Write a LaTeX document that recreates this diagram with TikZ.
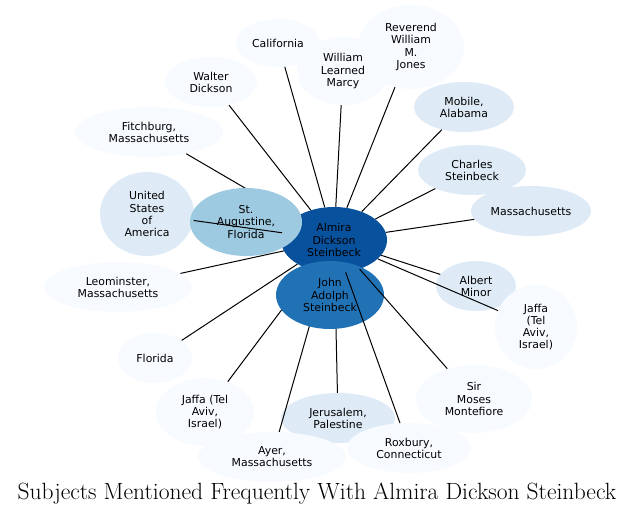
\documentclass[tikz,border=0pt]{standalone}
\usepackage{fontspec}
\newfontfamily\subjectfont{DejaVu Sans}
\usepackage{tikz}
\usetikzlibrary{shapes}
\definecolor{blueA}{HTML}{F7FBFF}
\definecolor{blueB}{HTML}{DEEBF7}
\definecolor{blueC}{HTML}{9ECAE1}
\definecolor{blueD}{HTML}{2171B5}
\definecolor{blueE}{HTML}{08519C}
\tikzset{subject/.style={ellipse, inner sep=0pt, align=center, font=\subjectfont\fontsize{10.9}{12.1}\selectfont}}
\tikzset{mention/.style={line width=1pt}}
\newcommand{\subjectnode}[6] {\node at (#1) (#2) [subject, fill=#3, minimum width=#4, minimum height=#5] {#6};}
\newcommand{\mentionedge}[2] {\draw [mention] (#1) -- (#2);}

\begin{document}
\begin{tikzpicture}[x=1pt, y=-1pt]
\useasboundingbox (0,0) rectangle (635,518);
\subjectnode {278,43} {california} {blueA} {84pt} {48pt} {California};
\subjectnode {211,82} {walter} {blueA} {92pt} {50pt} {Walter\\Dickson};
\subjectnode {149,132} {fitchburg} {blueA} {148pt} {50pt} {Fitchburg,\\Massachusetts};
\subjectnode {411,47} {jones} {blueA} {106pt} {84pt} {Reverend\\William\\M.\\Jones};
\subjectnode {343,71} {marcy} {blueA} {92pt} {68pt} {William\\Learned\\Marcy};
\subjectnode {464,107} {mobile} {blueB} {100pt} {50pt} {Mobile,\\Alabama};
\subjectnode {472,170} {charles} {blueB} {108pt} {50pt} {Charles\\Steinbeck};
\subjectnode {531,211} {mass} {blueB} {120pt} {50pt} {Massachusetts};
\subjectnode {476,286} {albert} {blueB} {80pt} {50pt} {Albert\\Minor};
\subjectnode {536,327} {jaffaR} {blueA} {82pt} {84pt} {Jaffa\\(Tel\\Aviv,\\Israel)};
\subjectnode {474,399} {moses} {blueA} {116pt} {68pt} {Sir\\Moses\\Montefiore};
\subjectnode {338,418} {jerusalem} {blueB} {114pt} {50pt} {Jerusalem,\\Palestine};
\subjectnode {409,448} {roxbury} {blueA} {124pt} {50pt} {Roxbury,\\Connecticut};
\subjectnode {205,412} {jaffaL} {blueA} {98pt} {68pt} {Jaffa (Tel\\Aviv,\\Israel)};
\subjectnode {272,457} {ayer} {blueA} {148pt} {50pt} {Ayer,\\Massachusetts};
\subjectnode {155,358} {florida} {blueA} {74pt} {50pt} {Florida};
\subjectnode {118,287} {leominster} {blueA} {148pt} {50pt} {Leominster,\\Massachusetts};
\subjectnode {147,214} {usa} {blueB} {94pt} {84pt} {United\\States\\of\\America};
\subjectnode {334,240} {almira} {blueE} {106pt} {66pt} {Almira\\Dickson\\Steinbeck};

% hidden under St. Augustine
\mentionedge{almira}{fitchburg};

\subjectnode {246,222} {staug} {blueC} {112pt} {68pt} {St.\\Augustine,\\Florida};

\mentionedge{almira}{california};
\mentionedge{almira}{walter};
\mentionedge{almira}{marcy};
\mentionedge{almira}{jones};
\mentionedge{almira}{mobile};
\mentionedge{almira}{charles};
\mentionedge{almira}{mass};
\mentionedge{almira}{albert};
\mentionedge{almira}{jaffaR};
\mentionedge{almira}{jerusalem};
\mentionedge{almira}{ayer};
\mentionedge{almira}{jaffaL};
\mentionedge{almira}{florida};
\mentionedge{almira}{leominster};
\mentionedge{almira}{usa};

\subjectnode {330,295} {john} {blueD} {108pt} {68pt} {John\\Adolph\\Steinbeck};

\mentionedge{almira}{roxbury};
\mentionedge{almira}{moses};

\node at (317,500) (title) [anchor=base] {\fontsize{23.5}{27}\selectfont Subjects Mentioned Frequently With Almira Dickson Steinbeck};
\end{tikzpicture}
\end{document}
